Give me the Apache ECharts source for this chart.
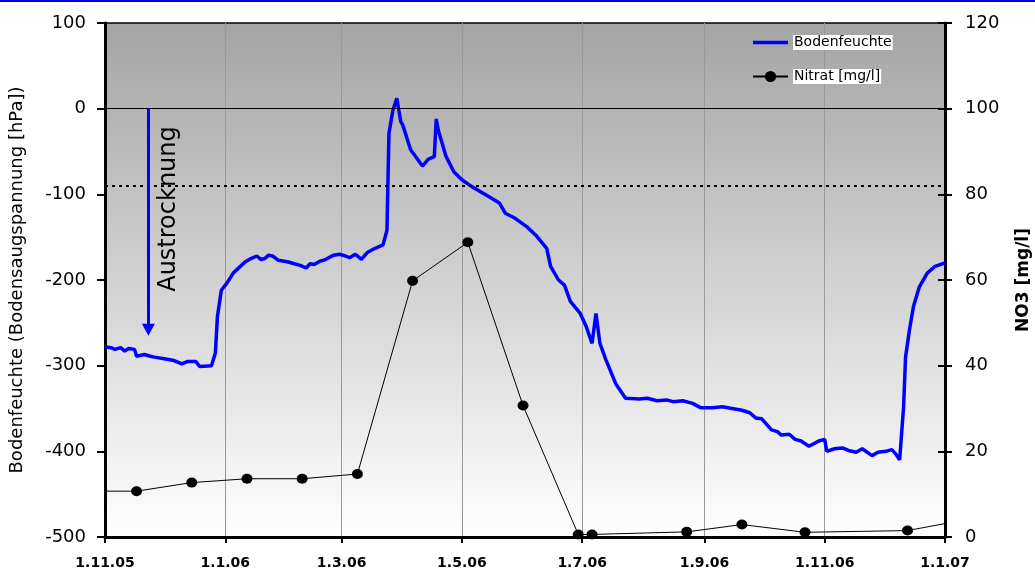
<!DOCTYPE html>
<html>
<head>
<meta charset="utf-8">
<title>Bodenfeuchte und Nitrat</title>
<script src="https://cdn.jsdelivr.net/npm/echarts@6/dist/echarts.min.js"></script>
<style>
  html, body { margin: 0; padding: 0; background: #fff; }
  #chart { width: 1035px; height: 568px; }
</style>
</head>
<body>
<div id="chart"></div>
<script>
// Soil moisture (suction, hPa) over time
const soilMoisture = [
  ['2005-11-01', -278], ['2005-11-04', -279], ['2005-11-06', -281], ['2005-11-09', -279],
  ['2005-11-11', -283], ['2005-11-13', -280], ['2005-11-16', -281],
  ['2005-11-17', -289], ['2005-11-21', -287], ['2005-11-24', -289], ['2005-11-26', -290], ['2005-12-01', -292],
  ['2005-12-06', -294], ['2005-12-10', -298], ['2005-12-13', -295], ['2005-12-17', -295],
  ['2005-12-19', -301], ['2005-12-25', -300], ['2005-12-27', -285], ['2005-12-28', -243],
  ['2005-12-30', -212], ['2006-01-02', -203], ['2006-01-05', -192], ['2006-01-11', -179],
  ['2006-01-14', -175], ['2006-01-17', -172], ['2006-01-19', -176], ['2006-01-21', -175], ['2006-01-23', -171],
  ['2006-01-25', -172], ['2006-01-28', -177],
  ['2006-02-02', -179], ['2006-02-05', -181], ['2006-02-08', -183], ['2006-02-11', -186], ['2006-02-13', -181],
  ['2006-02-15', -182], ['2006-02-18', -178],
  ['2006-02-20', -177], ['2006-02-25', -171], ['2006-02-28', -170], ['2006-03-03', -172], ['2006-03-05', -174],
  ['2006-03-08', -170], ['2006-03-11', -176], ['2006-03-14', -168], ['2006-03-18', -163],
  ['2006-03-22', -159], ['2006-03-24', -142], ['2006-03-25', -29], ['2006-03-27', -2],
  ['2006-03-29', 12], ['2006-03-31', -15], ['2006-04-01', -19], ['2006-04-05', -48],
  ['2006-04-11', -67], ['2006-04-14', -59], ['2006-04-17', -56], ['2006-04-18', -12],
  ['2006-04-19', -25], ['2006-04-23', -56], ['2006-04-27', -74], ['2006-05-01', -83],
  ['2006-05-06', -91], ['2006-05-15', -103], ['2006-05-20', -110], ['2006-05-23', -122],
  ['2006-05-28', -128], ['2006-06-03', -138], ['2006-06-08', -149], ['2006-06-13', -163],
  ['2006-06-15', -184], ['2006-06-19', -200], ['2006-06-22', -206], ['2006-06-25', -225],
  ['2006-06-30', -239], ['2006-07-03', -254], ['2006-07-06', -274], ['2006-07-08', -239],
  ['2006-07-10', -274], ['2006-07-13', -293], ['2006-07-18', -321], ['2006-07-23', -338],
  ['2006-07-30', -339], ['2006-08-03', -338], ['2006-08-08', -341], ['2006-08-13', -340],
  ['2006-08-16', -342], ['2006-08-21', -341], ['2006-08-26', -344], ['2006-08-30', -349],
  ['2006-09-05', -349], ['2006-09-10', -348], ['2006-09-15', -350], ['2006-09-20', -352], ['2006-09-24', -355],
  ['2006-09-27', -361], ['2006-09-30', -362],
  ['2006-10-02', -367], ['2006-10-05', -375], ['2006-10-08', -377], ['2006-10-10', -381], ['2006-10-14', -380],
  ['2006-10-17', -386], ['2006-10-20', -388],
  ['2006-10-24', -394], ['2006-10-29', -388], ['2006-11-01', -386], ['2006-11-02', -400],
  ['2006-11-06', -397], ['2006-11-10', -396], ['2006-11-13', -399], ['2006-11-17', -401], ['2006-11-20', -397],
  ['2006-11-25', -405], ['2006-11-28', -401],
  ['2006-12-02', -400], ['2006-12-05', -398], ['2006-12-07', -403], ['2006-12-09', -410], ['2006-12-11', -348],
  ['2006-12-12', -290], ['2006-12-14', -258], ['2006-12-16', -231], ['2006-12-19', -208],
  ['2006-12-23', -192], ['2006-12-27', -184], ['2007-01-01', -180]
];

// Nitrate samples (mg/l)
const nitrate = [
  ['2005-10-20', 10.7], ['2005-11-17', 10.7], ['2005-12-15', 12.7], ['2006-01-12', 13.6],
  ['2006-02-09', 13.6], ['2006-03-09', 14.7], ['2006-04-06', 59.8], ['2006-05-04', 68.8],
  ['2006-06-01', 30.7], ['2006-06-29', 0.6], ['2006-07-06', 0.6], ['2006-08-23', 1.2],
  ['2006-09-20', 2.9], ['2006-10-22', 1.1], ['2006-12-13', 1.5], ['2007-01-10', 3.9]
];

// Date axis labels
const dateTicks = ['2005-11-01', '2006-01-01', '2006-03-01', '2006-05-01',
                   '2006-07-01', '2006-09-01', '2006-11-01', '2007-01-01'];

// Reference levels on the suction axis
const zeroLevel = 0;
const dottedLevel = -90;
// "Austrocknung" arrow: date and from/to suction values
const dryingArrow = { date: '2005-11-23', from: 0, to: -258 };

function toTime(s) {
  const p = s.split('-').map(Number);
  return new Date(p[0], p[1] - 1, p[2]).getTime();
}
function fmtDate(v) {
  const d = new Date(v);
  return d.getDate() + '.' + (d.getMonth() + 1) + '.' + String(d.getFullYear()).slice(2);
}

const FONT = 'DejaVu Sans';
const chart = echarts.init(document.getElementById('chart'), null, { renderer: 'canvas' });

const tickTimes = dateTicks.map(toTime);

chart.setOption({
  animation: false,
  backgroundColor: '#ffffff',
  graphic: [
    { type: 'rect', left: 0, top: 0, shape: { width: 1035, height: 2 }, style: { fill: '#0000ee' }, z: 10 },
    {
      type: 'text', x: 169, y: 209, rotation: Math.PI / 2, z: 10,
      style: { text: 'Austrocknung', font: '24px "DejaVu Sans"', fill: '#000', align: 'center', verticalAlign: 'middle' }
    }
  ],
  grid: {
    left: 105, right: 90, top: 23, bottom: 31,
    outerBoundsMode: 'none',
    containLabel: false,
    show: true,
    borderColor: '#000',
    borderWidth: 1.5,
    backgroundColor: {
      type: 'linear', x: 0, y: 0, x2: 0, y2: 1,
      colorStops: [{ offset: 0, color: '#a4a4a4' }, { offset: 1, color: '#ffffff' }]
    }
  },
  legend: {
    orient: 'vertical',
    left: 752, top: 35,
    padding: 0,
    itemWidth: 35, itemHeight: 14, itemGap: 19,
    data: [
      { name: 'Bodenfeuchte', icon: 'path://M0,0M35,14M0,5.2h35v3.6h-35z' },
      { name: 'Nitrat [mg/l]' }
    ],
    textStyle: { fontFamily: FONT, fontSize: 14, color: '#000', backgroundColor: '#fff', padding: [1, 1, 0, 1] }
  },
  xAxis: {
    type: 'value',
    min: tickTimes[0],
    max: tickTimes[tickTimes.length - 1],
    axisLine: { show: true, onZero: false, lineStyle: { color: '#000', width: 3 } },
    axisTick: { show: true, length: 6, lineStyle: { color: '#000', width: 2 }, customValues: tickTimes },
    axisLabel: {
      customValues: tickTimes,
      formatter: fmtDate,
      fontFamily: FONT, fontSize: 14, fontWeight: 'bold', color: '#000',
      margin: 19, showMinLabel: true, showMaxLabel: true
    },
    splitLine: { show: true, lineStyle: { color: '#999', width: 1 } }
  },
  yAxis: [
    {
      type: 'value', position: 'left',
      min: -500, max: 100, interval: 100,
      name: 'Bodenfeuchte (Bodensaugspannung [hPa])',
      nameLocation: 'middle', nameRotate: 90, nameGap: 79,
      nameTextStyle: { fontFamily: FONT, fontSize: 18, color: '#000' },
      axisLine: { show: true, onZero: false, lineStyle: { color: '#000', width: 3 } },
      axisTick: { show: true, length: 8, lineStyle: { color: '#000', width: 2 } },
      axisLabel: { fontFamily: FONT, fontSize: 18, color: '#000', margin: 19 },
      splitLine: { show: false }
    },
    {
      type: 'value', position: 'right',
      min: 0, max: 120, interval: 20,
      name: 'NO3 [mg/l]',
      nameLocation: 'middle', nameRotate: 90, nameGap: 70,
      nameTextStyle: { fontFamily: FONT, fontSize: 17, fontWeight: 'bold', color: '#000' },
      axisLine: { show: true, onZero: false, lineStyle: { color: '#000', width: 3 } },
      axisTick: { show: true, length: 7, lineStyle: { color: '#000', width: 2 } },
      axisLabel: { fontFamily: FONT, fontSize: 18, color: '#000', margin: 20 },
      splitLine: { show: false }
    },
    {
      // inner half of the right-hand ticks
      type: 'value', position: 'right',
      min: 0, max: 120, interval: 20,
      axisLine: { show: false },
      axisTick: { show: true, inside: true, length: 7, lineStyle: { color: '#000', width: 2 } },
      axisLabel: { show: false },
      splitLine: { show: false }
    }
  ],
  series: [
    {
      name: 'Bodenfeuchte',
      type: 'line',
      yAxisIndex: 0,
      data: soilMoisture.map(d => [toTime(d[0]), d[1]]),
      showSymbol: false,
      symbol: 'none',
      color: '#0000ff',
      lineStyle: { color: '#0000ff', width: 3.5 },
      z: 4,
      markLine: {
        silent: true,
        symbol: ['none', 'none'],
        label: { show: false },
        animation: false,
        data: [
          { yAxis: zeroLevel, lineStyle: { color: '#000', width: 1.2, type: 'solid' } },
          { yAxis: dottedLevel, lineStyle: { color: '#000', width: 2, type: [3, 4] } },
          [
            { coord: [toTime(dryingArrow.date), dryingArrow.from], symbol: 'none' },
            { coord: [toTime(dryingArrow.date), dryingArrow.to], symbol: 'triangle', symbolSize: [13, 12] }
          ]
        ],
        lineStyle: { color: '#0000ff', width: 3, type: 'solid' }
      }
    },
    {
      name: 'Nitrat [mg/l]',
      type: 'line',
      yAxisIndex: 1,
      data: nitrate.map(d => [toTime(d[0]), d[1]]),
      symbol: 'circle',
      symbolSize: [11, 10],
      showAllSymbol: true,
      clip: true,
      color: '#000',
      itemStyle: { color: '#000' },
      lineStyle: { color: '#000', width: 1 },
      z: 3
    }
  ]
});
</script>
</body>
</html>
